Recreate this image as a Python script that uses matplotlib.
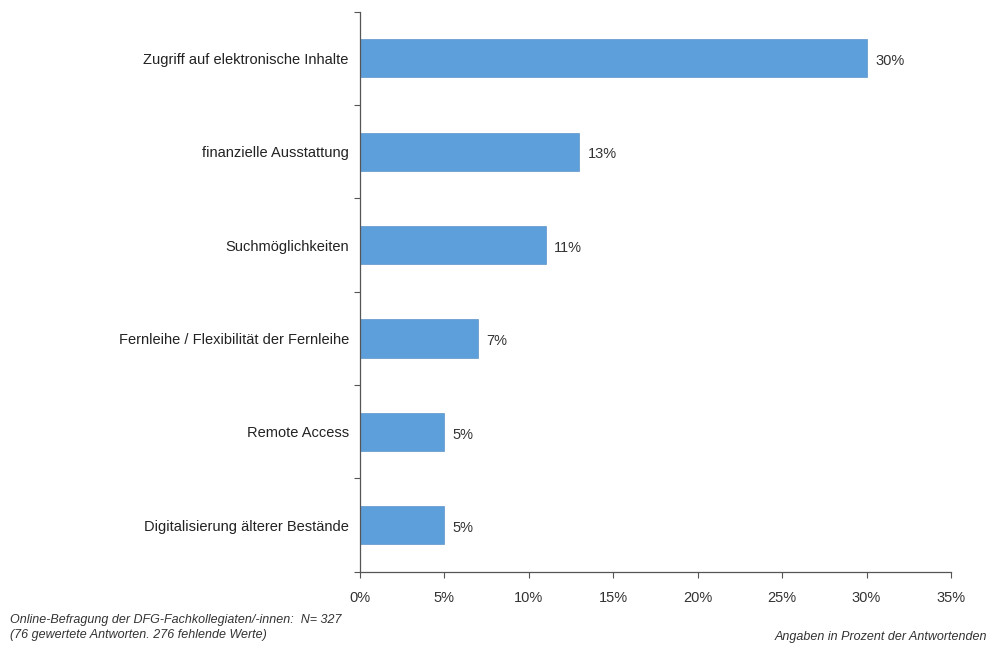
import matplotlib
matplotlib.use("Agg")
import matplotlib.pyplot as plt
import numpy as np
from matplotlib.ticker import FixedLocator

plt.rcParams['font.family'] = ['Liberation Sans', 'DejaVu Sans']

categories = [
    "Zugriff auf elektronische Inhalte",
    "finanzielle Ausstattung",
    "Suchmöglichkeiten",
    "Fernleihe / Flexibilität der Fernleihe",
    "Remote Access",
    "Digitalisierung älterer Bestände",
]
values = [30, 13, 11, 7, 5, 5]
xticks = [0, 5, 10, 15, 20, 25, 30, 35]
footnote = ["Online-Befragung der DFG-Fachkollegiaten/-innen:  N= 327",
            "(76 gewertete Antworten. 276 fehlende Werte)"]
unit_note = "Angaben in Prozent der Antwortenden"

bar_color = "#5d9fdb"
axis_color = "#555555"
text_color = "#333333"
fs = 10.5

fig = plt.figure(figsize=(9.93, 6.45), dpi=100)
ax = fig.add_axes([0.3625, 0.1135, 0.9577 - 0.3625, 0.982 - 0.1135])

n = len(categories)
ypos = np.arange(n)[::-1]
ax.barh(ypos, values, height=0.41, color=bar_color, edgecolor="#4a86bf", linewidth=0.4)

ax.set_xlim(0, 35)
ax.set_ylim(-0.5, n - 0.5)

for spine in ("top", "right"):
    ax.spines[spine].set_visible(False)
for spine in ("left", "bottom"):
    ax.spines[spine].set_color(axis_color)
    ax.spines[spine].set_linewidth(0.9)

ax.set_xticks(xticks)
ax.set_xticklabels([f"{t}%" for t in xticks], fontsize=fs, color=text_color)
ax.tick_params(axis="x", direction="out", length=4, width=0.8, color=axis_color, pad=10)

# category labels without ticks; ticks sit at the category boundaries
ax.set_yticks(ypos)
ax.set_yticklabels(categories, fontsize=fs, color="#222222")
ax.tick_params(axis="y", which="major", length=0, pad=8)
ax.yaxis.set_minor_locator(FixedLocator(np.arange(-0.5, n, 1.0)))
ax.tick_params(axis="y", which="minor", direction="out", length=4, width=0.8, color=axis_color)

for y, v in zip(ypos, values):
    ax.text(v + 0.5, y - 0.03, f"{v}%", va="center", ha="left", fontsize=fs, color=text_color)

fig.text(10 / 993, 1 - 620 / 645, footnote[0], fontsize=9.0, style="italic",
         color=text_color, va="center", ha="left")
fig.text(10 / 993, 1 - 635 / 645, footnote[1], fontsize=9.0, style="italic",
         color=text_color, va="center", ha="left")
fig.text(775 / 993, 1 - 637 / 645, unit_note, fontsize=9.0, style="italic",
         color=text_color, va="center", ha="left")

fig.savefig("out.png", dpi=100, facecolor="white")
